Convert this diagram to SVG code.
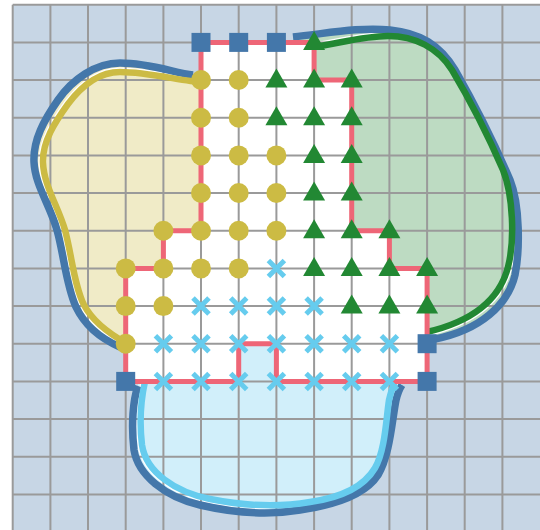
<svg xmlns="http://www.w3.org/2000/svg" xmlns:xlink="http://www.w3.org/1999/xlink" width="540" height="530" viewBox="0 0 540 530">
<style>
.fy{fill:#f0ebc7}.fg{fill:#bddbc2}.fc{fill:#d1effa}
.case{fill:none;stroke:#ffffff;stroke-width:9}
.grid{fill:none;stroke:#9a9a9a;stroke-width:2}
.ob{fill:none;stroke:#4477AA;stroke-width:7.5}
.sy{fill:none;stroke:#CCBB44;stroke-width:6.5}
.sg{fill:none;stroke:#228833;stroke-width:6.5}
.sc{fill:none;stroke:#66CCEE;stroke-width:6.5}
.pink{fill:none;stroke:#EE6677;stroke-width:5}
.sq{fill:#4477AA}.ci{fill:#CCBB44}.tr{fill:#228833}
.cr{fill:none;stroke:#66CCEE;stroke-width:5}
</style>
<defs>
<rect id="sq" class="sq" x="-9.5" y="-9.5" width="19" height="19"/>
<circle id="ci" class="ci" r="10"/>
<path id="tr" class="tr" d="M0,-11.5 L11,7.5 L-11,7.5 Z"/>
<path id="cr" class="cr" d="M-8,-8 L8,8 M-8,8 L8,-8"/>
<path id="cy" d="M201,82 C185,82 150,72 120,72 C97,72 80,88 68,104 C55,122 42,142 43,163 C44,186 58,206 65,230 C72,256 74,285 84,305 C93,322 108,333 126,343"/>
<path id="cg" d="M314,47 C340,43 365,36 388,36 C415,36 438,48 452,70 C470,100 490,140 503,170 C513,195 515,240 508,267 C499,302 470,322 427,332"/>
<path id="cc" d="M145,381.4 C142,395 139,420 142,445 C146,472 175,492 210,499 C240,505 275,508 310,502 C345,497 365,485 375,468 C385,451 386,420 389,400 C391,392 393,386 395,381.4"/>
</defs>
<rect x="12.7" y="4.7" width="528" height="526" fill="#c7d6e5"/>
<g id="regions">
<path class="fy" d="M193,75 C175,73 150,63 120,63 C95,63 72,80 58,100 C44,120 33,140 34,162 C35,185 50,205 57,230 C64,255 66,285 76,307 C86,328 104,340 120,347 L126,344 L126,75 Z"/>
<path class="fg" d="M293,37 C330,33 360,27 390,30 C420,33 440,45 455,70 C475,105 495,145 510,180 C520,205 520,250 515,275 C508,305 480,330 435,339 L427,339 L427,42 L293,42 Z"/>
<path class="fc" d="M138,386 C133,400 131,425 134,450 C138,475 165,497 200,505 C230,512 265,516 300,510 C335,505 365,495 378,475 C390,455 392,420 396,400 C398,392 400,388 402,385 L402,381 L138,381 Z"/>
<use xlink:href="#cy" class="case"/>
<use xlink:href="#cg" class="case"/>
<use xlink:href="#cc" class="case"/>
<path class="fy" d="M201,82 C185,82 150,72 120,72 C97,72 80,88 68,104 C55,122 42,142 43,163 C44,186 58,206 65,230 C72,256 74,285 84,305 C93,322 108,333 126,343 L125.7,268.4 L163.4,268.4 L163.4,230.7 L201,230.7 Z"/>
<path class="fg" d="M314,47 C340,43 365,36 388,36 C415,36 438,48 452,70 C470,100 490,140 503,170 C513,195 515,240 508,267 C499,302 470,322 427,332 L427.1,268.4 L389.4,268.4 L389.4,230.7 L351.7,230.7 L351.7,80 L314.1,80 Z"/>
<path class="fc" d="M145,381.4 C142,395 139,420 142,445 C146,472 175,492 210,499 C240,505 275,508 310,502 C345,497 365,485 375,468 C385,451 386,420 389,400 C391,392 393,386 395,381.4 L276.4,381.4 L276.4,343.7 L238.7,343.7 L238.7,381.4 Z"/>
<path fill="#ffffff" d="M201,42.4 L314.1,42.4 L314.1,80 L351.7,80 L351.7,230.7 L389.4,230.7 L389.4,268.4 L427.1,268.4 L427.1,381.4 L276.4,381.4 L276.4,343.7 L238.7,343.7 L238.7,381.4 L125.7,381.4 L125.7,268.4 L163.4,268.4 L163.4,230.7 L201,230.7 Z"/>
</g>
<path class="grid" d="M12.7,4.7V530 M50.4,4.7V530 M88,4.7V530 M125.7,4.7V530 M163.4,4.7V530 M201,4.7V530 M238.7,4.7V530 M276.4,4.7V530 M314.1,4.7V530 M351.7,4.7V530 M389.4,4.7V530 M427.1,4.7V530 M464.7,4.7V530 M502.4,4.7V530 M12.7,4.7H540 M12.7,42.4H540 M12.7,80H540 M12.7,117.7H540 M12.7,155.4H540 M12.7,193H540 M12.7,230.7H540 M12.7,268.4H540 M12.7,306.1H540 M12.7,343.7H540 M12.7,381.4H540 M12.7,419.1H540 M12.7,456.7H540 M12.7,494.4H540"/>
<g id="connectors">
<path class="ob" d="M193,75 C175,73 150,63 120,63 C95,63 72,80 58,100 C44,120 33,140 34,162 C35,185 50,205 57,230 C64,255 66,285 76,307 C86,328 104,340 120,347"/>
<path class="ob" d="M293,37 C330,33 360,27 390,30 C420,33 440,45 455,70 C475,105 495,145 510,180 C520,205 520,250 515,275 C508,305 480,330 435,339"/>
<path class="ob" d="M138,386 C133,400 131,425 134,450 C138,475 165,497 200,505 C230,512 265,516 300,510 C335,505 365,495 378,475 C390,455 392,420 396,400 C398,392 400,388 402,385"/>
<use xlink:href="#cy" class="sy"/>
<use xlink:href="#cg" class="sg"/>
<use xlink:href="#cc" class="sc"/>
<path class="pink" d="M201,42.4 L314.1,42.4 L314.1,80 L351.7,80 L351.7,230.7 L389.4,230.7 L389.4,268.4 L427.1,268.4 L427.1,381.4 L276.4,381.4 L276.4,343.7 L238.7,343.7 L238.7,381.4 L125.7,381.4 L125.7,268.4 L163.4,268.4 L163.4,230.7 L201,230.7 Z"/>
</g>
<g id="nodes">
<g id="s1"><use xlink:href="#sq" x="201" y="42.4"/></g>
<g id="s2"><use xlink:href="#sq" x="238.7" y="42.4"/></g>
<g id="s3"><use xlink:href="#sq" x="276.4" y="42.4"/></g>
<g id="s4"><use xlink:href="#sq" x="125.7" y="381.4"/></g>
<g id="s5"><use xlink:href="#sq" x="427.1" y="343.7"/></g>
<g id="s6"><use xlink:href="#sq" x="427.1" y="381.4"/></g>
<g id="t1"><use xlink:href="#tr" x="314.1" y="42.4"/></g>
<g id="t2"><use xlink:href="#tr" x="276.4" y="80"/></g>
<g id="t3"><use xlink:href="#tr" x="314.1" y="80"/></g>
<g id="t4"><use xlink:href="#tr" x="351.7" y="80"/></g>
<g id="t5"><use xlink:href="#tr" x="276.4" y="117.7"/></g>
<g id="t6"><use xlink:href="#tr" x="314.1" y="117.7"/></g>
<g id="t7"><use xlink:href="#tr" x="351.7" y="117.7"/></g>
<g id="t8"><use xlink:href="#tr" x="314.1" y="155.4"/></g>
<g id="t9"><use xlink:href="#tr" x="351.7" y="155.4"/></g>
<g id="t10"><use xlink:href="#tr" x="314.1" y="193"/></g>
<g id="t11"><use xlink:href="#tr" x="351.7" y="193"/></g>
<g id="t12"><use xlink:href="#tr" x="314.1" y="230.7"/></g>
<g id="t13"><use xlink:href="#tr" x="351.7" y="230.7"/></g>
<g id="t14"><use xlink:href="#tr" x="389.4" y="230.7"/></g>
<g id="t15"><use xlink:href="#tr" x="314.1" y="268.4"/></g>
<g id="t16"><use xlink:href="#tr" x="351.7" y="268.4"/></g>
<g id="t17"><use xlink:href="#tr" x="389.4" y="268.4"/></g>
<g id="t18"><use xlink:href="#tr" x="427.1" y="268.4"/></g>
<g id="t19"><use xlink:href="#tr" x="351.7" y="306.1"/></g>
<g id="t20"><use xlink:href="#tr" x="389.4" y="306.1"/></g>
<g id="t21"><use xlink:href="#tr" x="427.1" y="306.1"/></g>
<g id="c1"><use xlink:href="#ci" x="201" y="80"/></g>
<g id="c2"><use xlink:href="#ci" x="238.7" y="80"/></g>
<g id="c3"><use xlink:href="#ci" x="201" y="117.7"/></g>
<g id="c4"><use xlink:href="#ci" x="238.7" y="117.7"/></g>
<g id="c5"><use xlink:href="#ci" x="201" y="155.4"/></g>
<g id="c6"><use xlink:href="#ci" x="238.7" y="155.4"/></g>
<g id="c7"><use xlink:href="#ci" x="276.4" y="155.4"/></g>
<g id="c8"><use xlink:href="#ci" x="201" y="193"/></g>
<g id="c9"><use xlink:href="#ci" x="238.7" y="193"/></g>
<g id="c10"><use xlink:href="#ci" x="276.4" y="193"/></g>
<g id="c11"><use xlink:href="#ci" x="163.4" y="230.7"/></g>
<g id="c12"><use xlink:href="#ci" x="201" y="230.7"/></g>
<g id="c13"><use xlink:href="#ci" x="238.7" y="230.7"/></g>
<g id="c14"><use xlink:href="#ci" x="276.4" y="230.7"/></g>
<g id="c15"><use xlink:href="#ci" x="125.7" y="268.4"/></g>
<g id="c16"><use xlink:href="#ci" x="163.4" y="268.4"/></g>
<g id="c17"><use xlink:href="#ci" x="201" y="268.4"/></g>
<g id="c18"><use xlink:href="#ci" x="238.7" y="268.4"/></g>
<g id="c19"><use xlink:href="#ci" x="125.7" y="306.1"/></g>
<g id="c20"><use xlink:href="#ci" x="163.4" y="306.1"/></g>
<g id="c21"><use xlink:href="#ci" x="125.7" y="343.7"/></g>
<g id="x1"><use xlink:href="#cr" x="276.4" y="268.4"/></g>
<g id="x2"><use xlink:href="#cr" x="201" y="306.1"/></g>
<g id="x3"><use xlink:href="#cr" x="238.7" y="306.1"/></g>
<g id="x4"><use xlink:href="#cr" x="276.4" y="306.1"/></g>
<g id="x5"><use xlink:href="#cr" x="314.1" y="306.1"/></g>
<g id="x6"><use xlink:href="#cr" x="163.4" y="343.7"/></g>
<g id="x7"><use xlink:href="#cr" x="201" y="343.7"/></g>
<g id="x8"><use xlink:href="#cr" x="238.7" y="343.7"/></g>
<g id="x9"><use xlink:href="#cr" x="276.4" y="343.7"/></g>
<g id="x10"><use xlink:href="#cr" x="314.1" y="343.7"/></g>
<g id="x11"><use xlink:href="#cr" x="351.7" y="343.7"/></g>
<g id="x12"><use xlink:href="#cr" x="389.4" y="343.7"/></g>
<g id="x13"><use xlink:href="#cr" x="163.4" y="381.4"/></g>
<g id="x14"><use xlink:href="#cr" x="201" y="381.4"/></g>
<g id="x15"><use xlink:href="#cr" x="238.7" y="381.4"/></g>
<g id="x16"><use xlink:href="#cr" x="276.4" y="381.4"/></g>
<g id="x17"><use xlink:href="#cr" x="314.1" y="381.4"/></g>
<g id="x18"><use xlink:href="#cr" x="351.7" y="381.4"/></g>
<g id="x19"><use xlink:href="#cr" x="389.4" y="381.4"/></g>
</g>
</svg>
